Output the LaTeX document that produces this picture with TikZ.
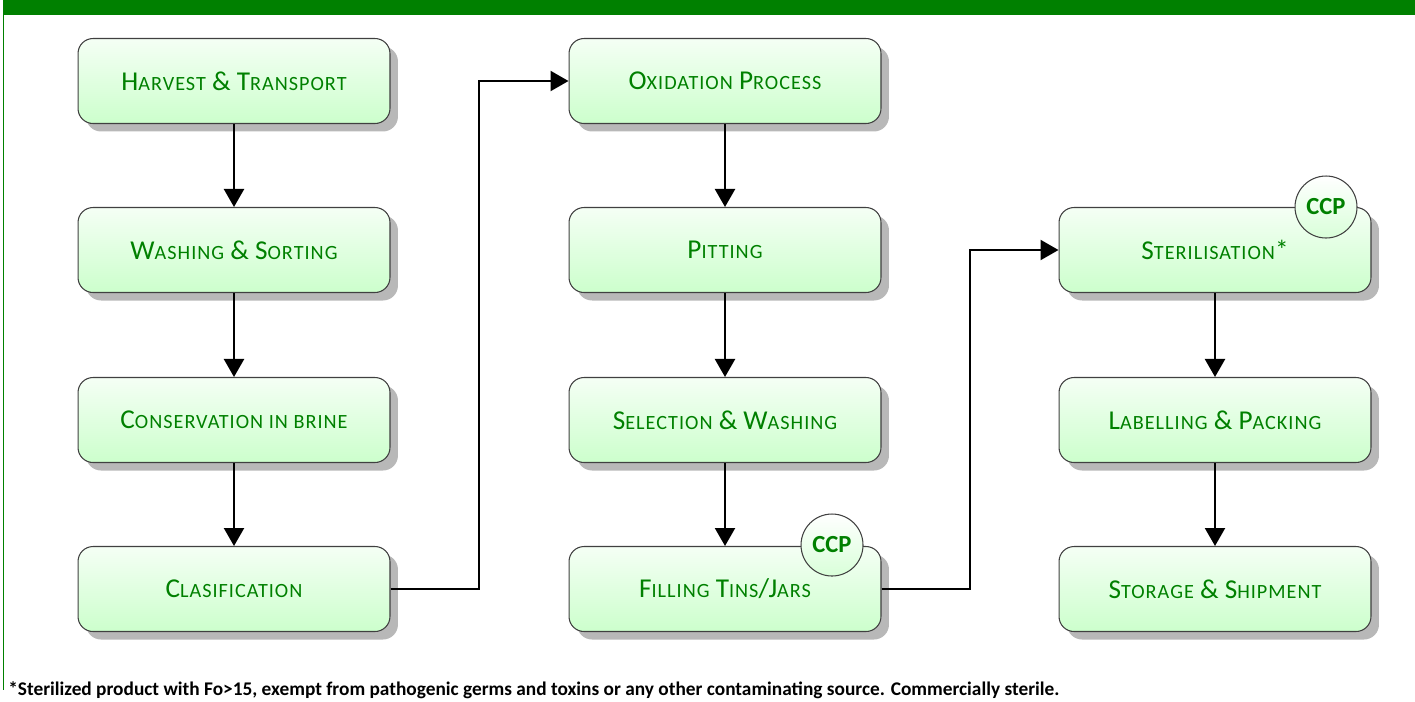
\documentclass[tikz,border=0pt]{standalone}
\usepackage{fontspec}
\setmainfont{Carlito}
\usetikzlibrary{arrows.meta,shadows}
\definecolor{framegreen}{RGB}{0,128,0}
\definecolor{labelgreen}{RGB}{0,128,0}
\newcommand\lowcaps[1]{{\fontsize{11.5}{11.5}\selectfont\addfontfeature{LetterSpace=5}#1}}
\tikzset{
  flowarrow/.style={-{Triangle[length=3.6mm,width=4mm]}, line width=1.3pt},
  stepbox/.style={draw=black!75, line width=0.6pt, rounded corners=0.3cm, top color=green!4, bottom color=green!20, minimum width=6.24cm, minimum height=1.7cm, align=center, text=labelgreen, font=\fontsize{15.5}{15.5}\selectfont, drop shadow={shadow xshift=0.16cm, shadow yshift=-0.16cm, fill=black!28, opacity=1}},
  ccpmark/.style={circle, draw=black!75, line width=0.6pt, top color=white, bottom color=green!15, minimum size=1.24cm, inner sep=0pt, text=labelgreen, font=\bfseries\fontsize{14}{14}\selectfont},
  footnote/.style={anchor=base west, inner sep=0pt, font=\bfseries\fontsize{11}{11}\selectfont}
}

\begin{document}
\begin{tikzpicture}[x=0.02cm, y=-0.02cm]
  \useasboundingbox (0,0) rectangle (1415,701);
  % frame
  \fill[framegreen] (3,0) rectangle (1415,15);
  \draw[framegreen, line width=1pt] (3.5,0) -- (3.5,690);
  % first column
  \node[stepbox] (harvest) at (234,81) {H\lowcaps{ARVEST} \& T\lowcaps{RANSPORT}};
  \node[stepbox] (washsort) at (234,250) {W\lowcaps{ASHING} \& S\lowcaps{ORTING}};
  \node[stepbox] (brine) at (234,420) {C\lowcaps{ONSERVATION IN BRINE}};
  \node[stepbox] (clasif) at (234,589) {C\lowcaps{LASIFICATION}};
  % second column
  \node[stepbox] (oxid) at (725,81) {O\lowcaps{XIDATION} P\lowcaps{ROCESS}};
  \node[stepbox] (pitting) at (725,250) {P\lowcaps{ITTING}};
  \node[stepbox] (selwash) at (725,420) {S\lowcaps{ELECTION} \& W\lowcaps{ASHING}};
  \node[stepbox] (filling) at (725,589) {F\lowcaps{ILLING} T\lowcaps{INS}/J\lowcaps{ARS}};
  % third column
  \node[stepbox] (steril) at (1215,250) {S\lowcaps{TERILISATION}*};
  \node[stepbox] (label) at (1215,420) {L\lowcaps{ABELLING} \& P\lowcaps{ACKING}};
  \node[stepbox] (storage) at (1215,589) {S\lowcaps{TORAGE} \& S\lowcaps{HIPMENT}};
  % critical control points
  \node[ccpmark] (ccpfill) at (832,545) {CCP};
  \node[ccpmark] (ccpster) at (1326,207) {CCP};
  % arrows
  \draw[flowarrow] (harvest) -- (washsort);
  \draw[flowarrow] (washsort) -- (brine);
  \draw[flowarrow] (brine) -- (clasif);
  \draw[flowarrow] (oxid) -- (pitting);
  \draw[flowarrow] (pitting) -- (selwash);
  \draw[flowarrow] (selwash) -- (filling);
  \draw[flowarrow] (steril) -- (label);
  \draw[flowarrow] (label) -- (storage);
  \coordinate (bendA) at (479,300);
  \coordinate (bendB) at (970,400);
  \draw[flowarrow] (clasif.east) -| (bendA) |- (oxid.west);
  \draw[flowarrow] (filling.east) -| (bendB) |- (steril.west);
  % note
  \node[footnote] (note) at (8,695) {*Sterilized product with Fo>15, exempt from pathogenic germs and toxins or any other contaminating source. Commercially sterile.};
\end{tikzpicture}
\end{document}
